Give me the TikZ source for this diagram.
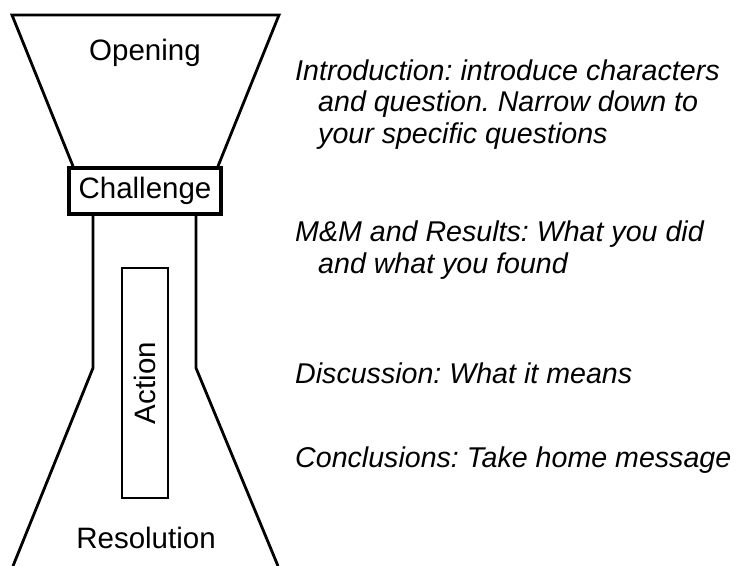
\documentclass[tikz,border=0pt]{standalone}
\usepackage{fontspec}
\setmainfont{Liberation Sans}
\usetikzlibrary{positioning}
\frenchspacing

\tikzset{
  funnel/.style={line width=2.8pt, line join=miter},
  stagetext/.style={font=\fontsize{29.5}{32}\selectfont, inner sep=0pt},
  note/.style={font=\fontsize{28.6}{31.5}\selectfont\itshape, inner sep=0pt,
               anchor=base west, align=left},
}

\begin{document}
\begin{tikzpicture}[x=1pt,y=-1pt]
  \useasboundingbox (0,0) rectangle (744,565);

  % funnel outline
  \coordinate (topL) at (12,15);
  \coordinate (topR) at (279,15);
  \coordinate (neckL) at (93,368);
  \coordinate (neckR) at (196,368);
  \coordinate (footL) at (13,566);
  \coordinate (footR) at (278,566);

  \node[draw, line width=3.6pt, minimum width=152pt, minimum height=46pt,
        stagetext] (challenge) at (145,191) {Challenge};

  \draw[funnel] (challenge.north west -| 73,0) -- (topL) -- (topR)
                -- (challenge.north east -| 218,0);
  \draw[funnel] (challenge.south west -| neckL) -- (neckL) -- (footL);
  \draw[funnel] (challenge.south east -| neckR) -- (neckR) -- (footR);

  % stages
  \node[stagetext, anchor=base] (opening) at (145,60) {Opening};
  \node[draw, line width=1.3pt, rotate=90, minimum width=230pt,
        minimum height=46pt, stagetext] (action) at (145,383) {Action};
  \node[stagetext, anchor=base] (resolution) at (146,548) {Resolution};

  % notes (anchored on the baseline of their last line)
  \node[note] (intro) at (295,143) {Introduction: introduce characters\\
    \hspace*{23pt}and question. Narrow down to\\
    \hspace*{23pt}your specific questions};
  \node[note] (methods) at (295,273) {M\&M and Results: What you did\\
    \hspace*{23pt}and what you found};
  \node[note] (discuss) at (295,383) {Discussion: What it means};
  \node[note] (concl) at (295,467) {Conclusions: Take home message};
\end{tikzpicture}
\end{document}
